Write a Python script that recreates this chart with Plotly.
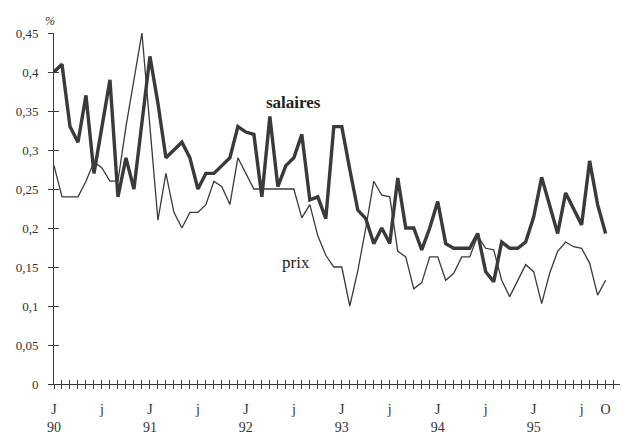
import plotly.graph_objects as go

# Monthly values, Jan 1990 .. Oct 1995 (70 months), in %
months = list(range(70))

salaires = [0.40, 0.41, 0.33, 0.31, 0.37, 0.27, 0.33, 0.39, 0.24, 0.29,
            0.25, 0.335, 0.42, 0.36, 0.29, 0.30, 0.31, 0.29, 0.25, 0.27,
            0.27, 0.28, 0.29, 0.33, 0.323, 0.32, 0.24, 0.343, 0.253, 0.28,
            0.29, 0.32, 0.236, 0.24, 0.212, 0.33, 0.33, 0.275, 0.223, 0.212,
            0.18, 0.20, 0.18, 0.264, 0.20, 0.20, 0.172, 0.20, 0.234, 0.18,
            0.174, 0.174, 0.174, 0.193, 0.144, 0.131, 0.182, 0.174, 0.174, 0.182,
            0.214, 0.265, 0.23, 0.193, 0.245, 0.225, 0.204, 0.286, 0.23, 0.193]

prix = [0.28, 0.24, 0.24, 0.24, 0.26, 0.285, 0.277, 0.26, 0.26, 0.33,
        0.39, 0.45, 0.33, 0.21, 0.27, 0.22, 0.20, 0.22, 0.22, 0.23,
        0.26, 0.253, 0.23, 0.29, 0.27, 0.25, 0.25, 0.25, 0.25, 0.25,
        0.25, 0.213, 0.23, 0.19, 0.165, 0.15, 0.15, 0.10, 0.145, 0.20,
        0.26, 0.242, 0.24, 0.17, 0.163, 0.122, 0.13, 0.163, 0.163, 0.133,
        0.142, 0.163, 0.163, 0.19, 0.174, 0.172, 0.133, 0.112, 0.133, 0.153,
        0.144, 0.103, 0.142, 0.17, 0.182, 0.176, 0.174, 0.155, 0.114, 0.133]

x_ticks = list(range(71))
x_labels = {0: "J<br>90", 6: "j", 12: "J<br>91", 18: "j", 24: "J<br>92", 30: "j",
            36: "J<br>93", 42: "j", 48: "J<br>94", 54: "j", 60: "J<br>95", 66: "j",
            69: "O"}
x_text = [x_labels.get(m, "") for m in x_ticks]

y_ticks = [0, 0.05, 0.1, 0.15, 0.2, 0.25, 0.3, 0.35, 0.4, 0.45]
y_text = ["0", "0,05", "0,1", "0,15", "0,2", "0,25", "0,3", "0,35", "0,4", "0,45"]

ink = "#3a3a3a"
serif = "'Liberation Serif', 'Times New Roman', serif"

fig = go.Figure()
fig.add_trace(go.Scatter(x=months, y=prix, mode="lines",
                         line=dict(color=ink, width=1.3), showlegend=False,
                         hoverinfo="skip"))
fig.add_trace(go.Scatter(x=months, y=salaires, mode="lines",
                         line=dict(color=ink, width=3.4), showlegend=False,
                         hoverinfo="skip"))
# invisible trace to carry the overlay axes (inner half of cross ticks)
fig.add_trace(go.Scatter(x=[0], y=[0], xaxis="x2", yaxis="y2", mode="markers",
                         marker=dict(opacity=0), showlegend=False, hoverinfo="skip"))

xr = [0, 70.8]
yr = [0, 0.45]
plot_w = 622 - 54 - 2
plot_h = 439 - 33 - 55

fig.update_layout(
    width=622, height=439,
    margin=dict(l=54, r=2, t=33, b=55),
    paper_bgcolor="white", plot_bgcolor="white",
    font=dict(family=serif, size=13, color="#333"),
    xaxis=dict(range=xr, tickmode="array", tickvals=x_ticks, ticktext=x_text,
               ticks="outside", ticklen=4, tickcolor=ink, tickwidth=1,
               showline=True, linecolor=ink, linewidth=1, showgrid=False,
               zeroline=False, tickfont=dict(family=serif, size=14, color="#333"),
               ticklabelstandoff=8),
    yaxis=dict(range=yr, tickmode="array", tickvals=y_ticks, ticktext=y_text,
               ticks="outside", ticklen=5, tickcolor=ink, tickwidth=1,
               showline=True, linecolor=ink, linewidth=1, showgrid=False,
               zeroline=False, tickfont=dict(family=serif, size=13, color="#333"),
               ticklabelstandoff=7),
    xaxis2=dict(range=xr, overlaying="x", anchor="y2", side="bottom",
                tickmode="array", tickvals=x_ticks, ticks="inside", ticklen=4,
                tickcolor=ink, showticklabels=False, showline=False,
                showgrid=False, zeroline=False),
    yaxis2=dict(range=yr, overlaying="y", anchor="x2", side="left",
                tickmode="array", tickvals=y_ticks, ticks="inside", ticklen=5,
                tickcolor=ink, showticklabels=False, showline=False,
                showgrid=False, zeroline=False),
    annotations=[
        dict(x=29.9, y=0.3615, xref="x", yref="y", text="<b>salaires</b>",
             showarrow=False, font=dict(family=serif, size=17, color="#222")),
        dict(x=30.3, y=0.156, xref="x", yref="y", text="prix",
             showarrow=False, font=dict(family=serif, size=17, color="#222")),
        dict(x=(50 - 54) / plot_w, y=(439 - 55 - 21) / plot_h,
             xref="paper", yref="paper", xanchor="center", yanchor="middle",
             text="<i>%</i>", showarrow=False,
             font=dict(family=serif, size=12, color="#333")),
    ],
)

fig.write_html("out.html", config={"displayModeBar": False},
               post_script="document.body.style.margin='0';document.body.style.padding='0';")
